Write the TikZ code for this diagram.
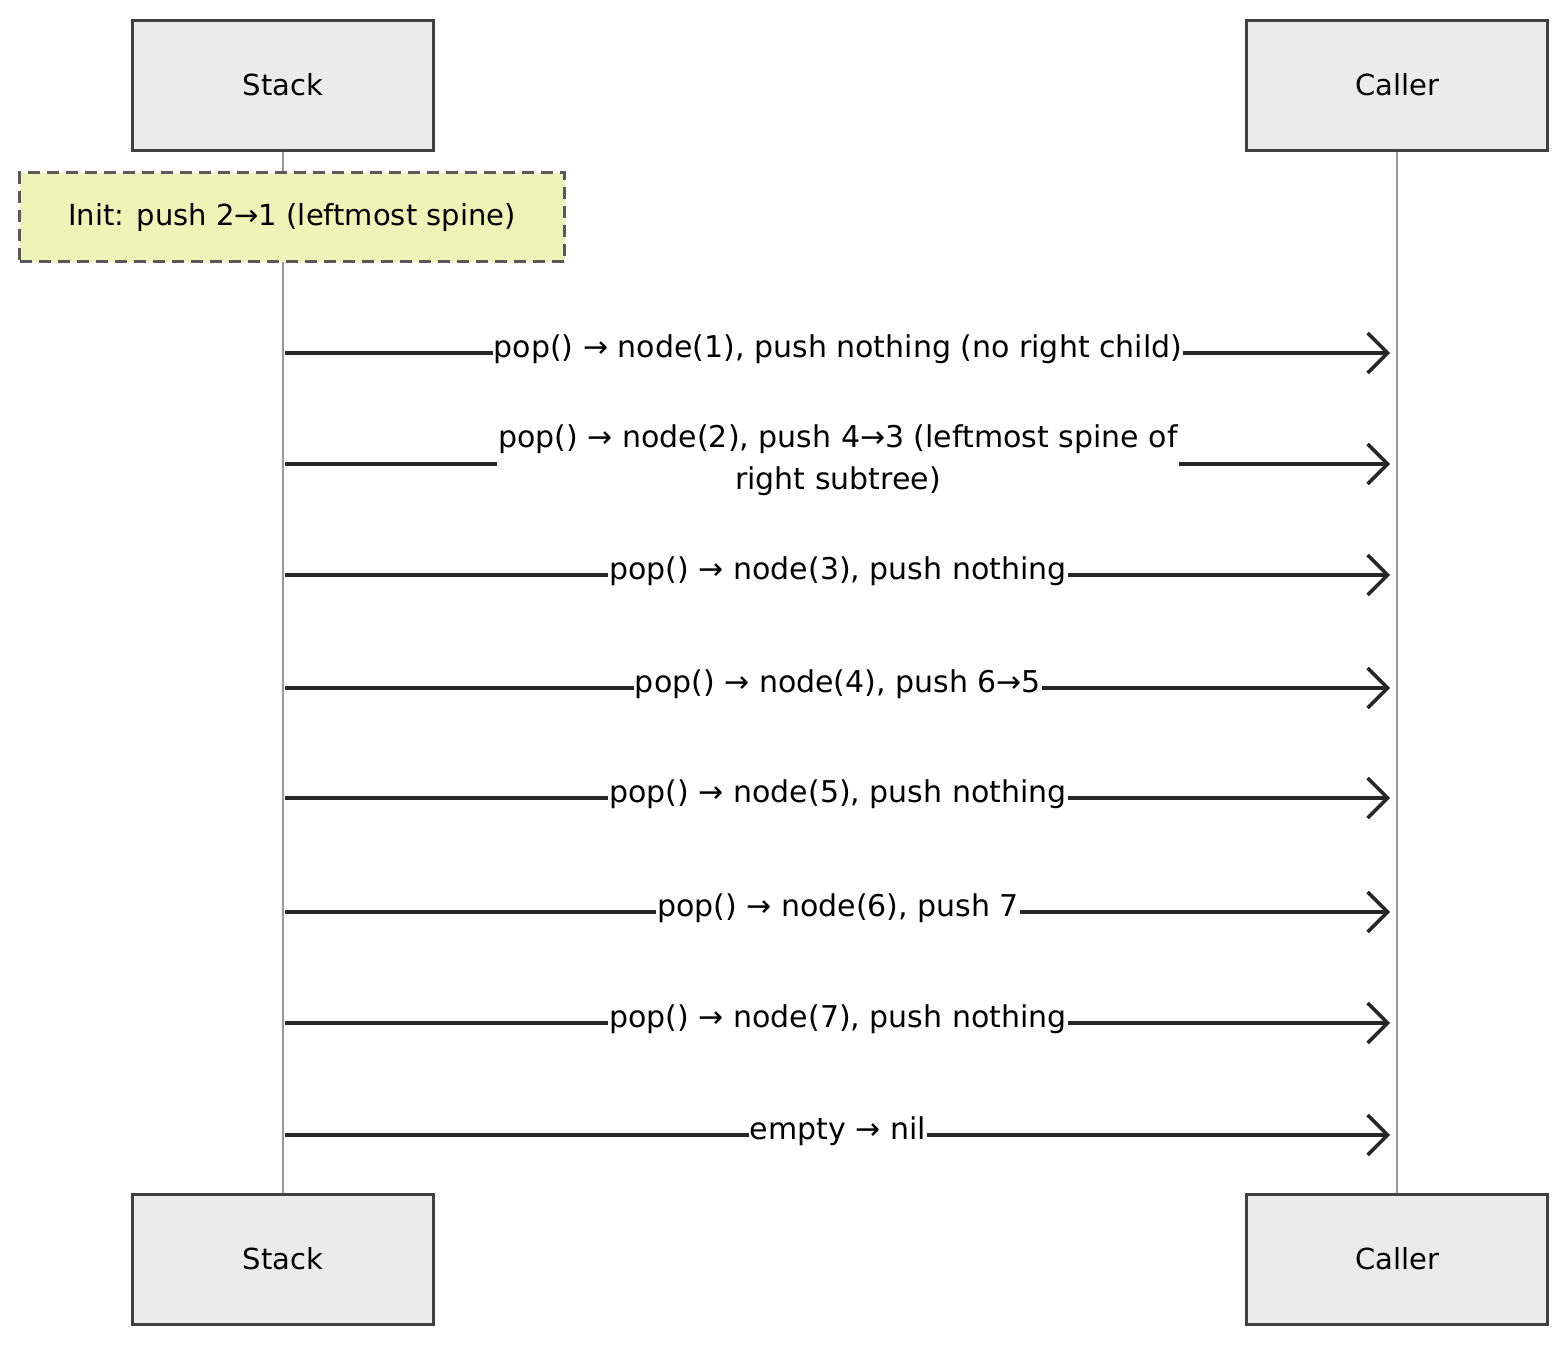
\documentclass[tikz,border=0pt]{standalone}
\usepackage{fontspec}
\setmainfont{DejaVu Sans}
\usetikzlibrary{arrows.meta}
\begin{document}
\begin{tikzpicture}[x=1pt,y=-1pt,
  actor/.style={draw=black!75,line width=3pt,fill=black!8,minimum width=301pt,minimum height=130pt,font=\fontsize{29}{34}\selectfont},
  msg/.style={draw=black!85,line width=4pt,-{Straight Barb[length=20pt,width=40pt,line width=3.5pt]}},
  lbl/.style={fill=white,inner sep=1pt,font=\fontsize{30}{42}\selectfont,align=center},
  life/.style={draw=black!40,line width=1.5pt}]
\useasboundingbox (0,0) rectangle (1566,1344);
\node[actor] (s1) at (283,85) {Stack};
\node[actor] (c1) at (1397,85) {Caller};
\node[actor] (s2) at (283,1259) {Stack};
\node[actor] (c2) at (1397,1259) {Caller};
\draw[life] (s1.south) -- (s2.north);
\draw[life] (c1.south) -- (c2.north);
\node[draw=black!65,dashed,dash pattern=on 12pt off 7pt,line width=3.5pt,fill={rgb,255:red,238;green,243;blue,184},minimum width=545pt,minimum height=89pt,font=\fontsize{29}{34}\selectfont] (note) at (292,217) {Init: push 2→1 (leftmost spine)};
\foreach \y/\t [count=\i] in {353/{pop() → node(1), push nothing (no right child)},
  575/{pop() → node(3), push nothing},
  688/{pop() → node(4), push 6→5},
  798/{pop() → node(5), push nothing},
  912/{pop() → node(6), push 7},
  1023/{pop() → node(7), push nothing},
  1135/{empty → nil}}{
  \coordinate (a\i) at (285,\y);
  \coordinate (b\i) at (1390,\y);
  \draw[msg] (a\i) -- (b\i);
  \node[lbl] (l\i) at (838,\y-4) {\t};
}
\coordinate (a0) at (285,464);
\coordinate (b0) at (1390,464);
\draw[msg] (a0) -- (b0);
\node[lbl] (l0) at (838,460) {pop() → node(2), push 4→3 (leftmost spine of\\right subtree)};
\end{tikzpicture}
\end{document}
